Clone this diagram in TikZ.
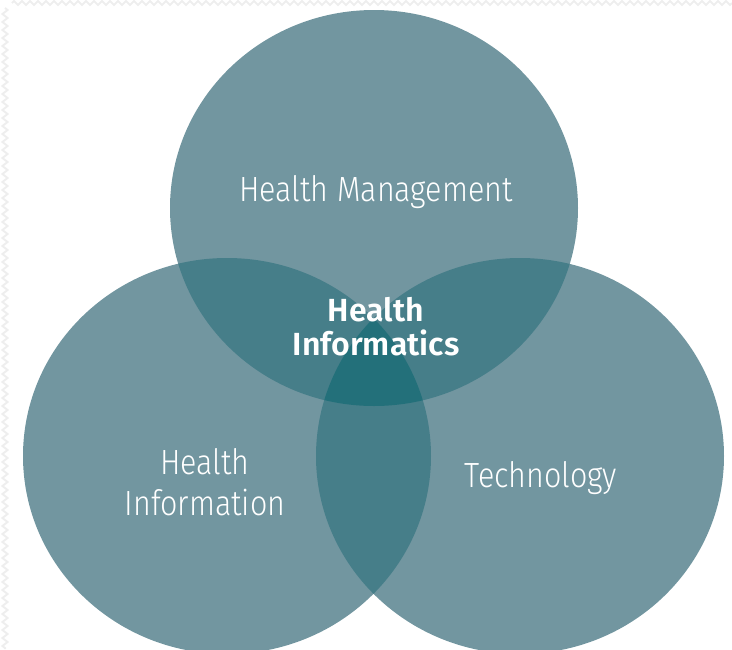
\documentclass[tikz,border=0pt]{standalone}
\usepackage{fontspec}
\setmainfont{Fira Sans Light}
\newfontfamily\lightface[FakeStretch=0.87]{Fira Sans Light}
\newfontfamily\boldface{Fira Sans SemiBold}
\usepackage{tikz}
\usetikzlibrary{decorations.pathmorphing}
\usetikzlibrary{positioning}
\definecolor{vennone}{RGB}{114,150,160}
\definecolor{venntwo}{RGB}{70,126,137}
\definecolor{vennthree}{RGB}{35,112,122}
\definecolor{zigzag}{RGB}{238,238,238}

\begin{document}
\begin{tikzpicture}[x=1pt, y=-1pt,
    set/.style={x radius=204, y radius=198},
    setlabel/.style={text=white, align=center, font=\lightface\fontsize{35}{41}\selectfont},
    core/.style={text=white, align=center, font=\boldface\fontsize{32}{34}\selectfont}]
    \useasboundingbox (0,0) rectangle (732,649);
    % faint zigzag edge
    \draw[zigzag, line width=2pt, decorate, decoration={zigzag, segment length=8pt, amplitude=2pt}]
        (12,3) -- (732,3);
    \draw[zigzag, line width=2pt, decorate, decoration={zigzag, segment length=8pt, amplitude=2.5pt}]
        (5,8) -- (5,649);
    % centres of the three sets
    \coordinate (mgmt) at (374,208);
    \coordinate (info) at (227,456);
    \coordinate (tech) at (520,456);
    \foreach \s in {mgmt,info,tech}
        \fill[vennone] (\s) ellipse[set];
    % pairwise overlaps
    \foreach \a/\b in {mgmt/info, mgmt/tech, info/tech} {
        \begin{scope}
            \clip (\a) ellipse[set];
            \fill[venntwo] (\b) ellipse[set];
        \end{scope}
    }
    % centre
    \begin{scope}
        \clip (mgmt) ellipse[set];
        \clip (info) ellipse[set];
        \fill[vennthree] (tech) ellipse[set];
    \end{scope}
    \node[setlabel] (l-mgmt) at (376,192) {Health Management};
    \node[setlabel] (l-info) at (205,482) {Health\\Information};
    \node[setlabel] (l-tech) at (541,478) {Technology};
    \node[core] (l-core) at (376,327) {Health\\Informatics};
\end{tikzpicture}
\end{document}
